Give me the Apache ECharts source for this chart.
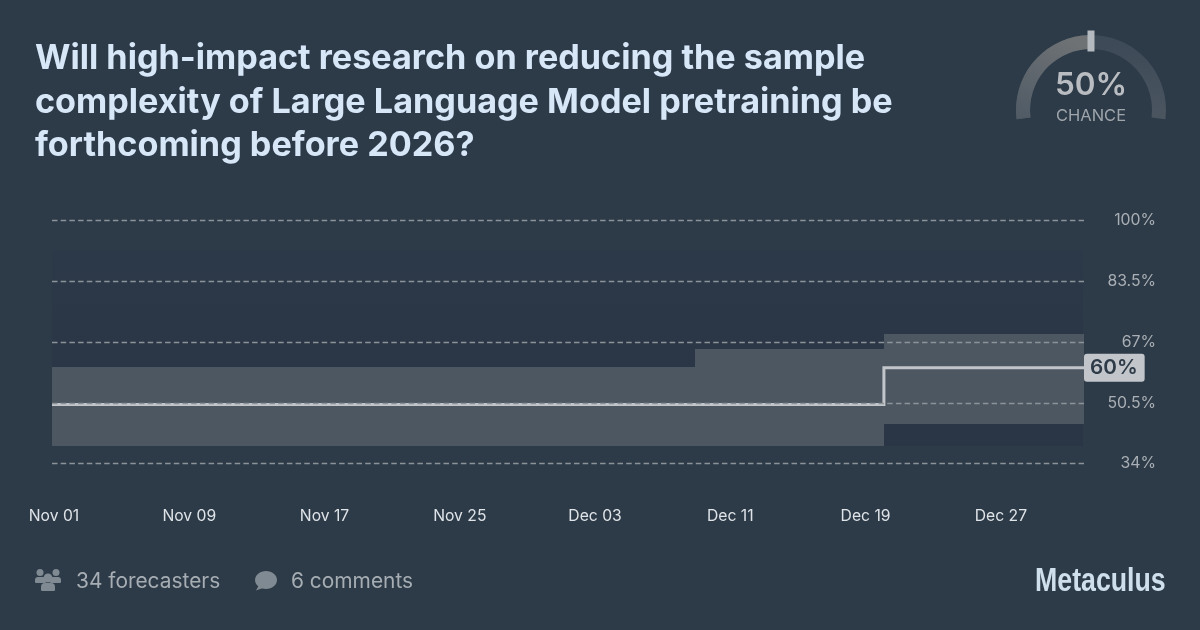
<!DOCTYPE html>
<html>
<head>
<meta charset="utf-8">
<style>html,body{margin:0;padding:0;background:#2d3a48}#c{width:1200px;height:630px}</style>
<script src="https://cdn.jsdelivr.net/npm/echarts@6/dist/echarts.min.js"></script>
</head>
<body>
<div id="c"></div>
<script>
const titleText = "Will high-impact research on reducing the sample\ncomplexity of Large Language Model pretraining be\nforthcoming before 2026?";
const xStart = "2024-10-31T21:10:00Z";
const xEnd = "2024-12-31T22:00:00Z";
const xTickDates = ["2024-11-01","2024-11-09","2024-11-17","2024-11-25","2024-12-03","2024-12-11","2024-12-19","2024-12-27"];
const xTickLabels = ["Nov 01","Nov 09","Nov 17","Nov 25","Dec 03","Dec 11","Dec 19","Dec 27"];
const yTicks = [34, 50.5, 67, 83.5, 100];
const yTickLabels = ["34%","50.5%","67%","83.5%","100%"];
const bandStarts = [xStart, "2024-12-08T22:30:00Z", "2024-12-20T02:00:00Z"];
const bandEnds = ["2024-12-08T22:30:00Z", "2024-12-20T02:00:00Z", xEnd];
const bandLows = [38.8, 38.8, 44.7];
const bandHighs = [60.2, 65.2, 69.2];
const lineDates = [xStart, "2024-12-20T02:00:00Z", xEnd];
const lineValues = [50, 60, 60];
const chanceValue = 50;
const chanceLabel = "CHANCE";
const forecasters = "34 forecasters";
const comments = "6 comments";
const brand = "Metaculus";

const FONT = 'Inter, "Noto Sans", sans-serif';
const ms = s => new Date(s).getTime();
const tickMs = xTickDates.map(d => Date.parse(d + "T00:00:00Z"));
const chart = echarts.init(document.getElementById('c'), null, {renderer:'canvas', width:1200, height:630});

const iconColor = '#808a92';
chart.setOption({
  animation:false,
  backgroundColor:'#2d3a48',
  title:{
    text:titleText, left:30, top:32,
    textStyle:{color:'#d7e7f8', fontFamily:FONT, fontWeight:700, fontSize:34.2, lineHeight:43.5}
  },
  grid:{left:52, right:116, top:220.5, bottom:166.5, containLabel:false},
  xAxis:{
    type:'value', min:ms(xStart), max:ms(xEnd), scale:true,
    axisLine:{show:false}, axisTick:{show:false}, splitLine:{show:false},
    axisLabel:{
      customValues:tickMs, margin:45, hideOverlap:false, showMinLabel:true, showMaxLabel:true,
      color:'#dfe4e8', fontFamily:FONT, fontSize:15.7,
      formatter:v=>xTickLabels[tickMs.indexOf(+v)] ?? ''
    }
  },
  yAxis:{
    type:'value', min:34, max:100, position:'right', z:5,
    axisLine:{show:false}, axisTick:{show:false, customValues:yTicks},
    axisLabel:{
      customValues:yTicks, margin:72, align:'right', color:'#a9afb4', fontFamily:FONT, fontSize:15.8,
      padding:[4,0,0,0],
      formatter:v=>yTickLabels[yTicks.indexOf(+v)] ?? ''
    },
    splitLine:{show:true, lineStyle:{color:'#8c9398', width:1.4, type:[5.5,3.2]}}
  },
  series:[
    {
      type:'custom', z:1, silent:true, clip:true,
      encode:{x:[0,1], y:[2,3]},
      data:bandStarts.map((s,i)=>[ms(s), ms(bandEnds[i]), bandLows[i], bandHighs[i]]),
      renderItem:(p,api)=>{
        const a=api.coord([api.value(0),api.value(3)]), b=api.coord([api.value(1),api.value(2)]);
        return {type:'rect', shape:{x:Math.round(a[0]),y:Math.round(a[1]),width:Math.round(b[0])-Math.round(a[0]),height:Math.round(b[1])-Math.round(a[1])}, style:{fill:'#4d5761'}};
      }
    },
    {
      type:'line', z:4, step:'end', symbol:'none', silent:true,
      data:lineDates.map((d,i)=>[ms(d), lineValues[i]]),
      lineStyle:{color:'#c2c6ca', width:3, cap:'butt', join:'miter'},
      endLabel:{
        show:true, formatter:p=>p.value[1]+'%', distance:0, offset:[0,0],
        color:'#2d3a48', backgroundColor:'#c2c6ca', fontFamily:FONT, fontWeight:600, fontSize:20.7,
        padding:[4,7,3,6], borderRadius:3
      }
    },
    {
      type:'gauge', center:[1091,110], radius:75, startAngle:187, endAngle:-7, min:0, max:100, z:5,
      silent:true,
      axisLine:{roundCap:false, lineStyle:{width:14, color:[[1,{type:'linear',x:0,y:0,x2:0,y2:1,colorStops:[{offset:0,color:'#3c4956'},{offset:1,color:'#4a5560'}]}]]}},
      progress:{show:true, width:14, overlap:false, itemStyle:{
        color:{type:'linear', x:0, y:1, x2:0.6, y2:0, colorStops:[{offset:0,color:'#4f5a65'},{offset:1,color:'#6e7275'}]}
      }},
      splitLine:{show:false}, axisTick:{show:false}, axisLabel:{show:false},
      pointer:{show:false}, anchor:{show:false},
      title:{show:true, offsetCenter:[0,6], color:'#9ea5ab', fontFamily:FONT, fontSize:16.5},
      detail:{show:true, offsetCenter:[0,-24], color:'#b9bdc1', fontFamily:FONT, fontWeight:600, fontSize:31.5, formatter:'{value}%', valueAnimation:false},
      data:[{value:chanceValue, name:chanceLabel}]
    }
  ],
  graphic:[
    {type:'rect', z:-1, silent:true, shape:{x:52,y:250,width:1031,height:196},
      style:{fill:{type:'linear',x:0,y:0,x2:0,y2:1,colorStops:[{offset:0,color:'#2c3949'},{offset:0.4,color:'#2b3747'},{offset:1,color:'#2a3646'}]}}},
    {type:'rect', z:10, silent:true, shape:{x:1087.5,y:30.5,width:7,height:21}, style:{fill:'#b4bac0'}},
    {type:'text', z:10, x:76, y:582, style:{text:forecasters, fill:'#a6adb3', font:'400 20.9px '+FONT, textVerticalAlign:'middle'}},
    {type:'text', z:10, x:291, y:582, style:{text:comments, fill:'#a6adb3', font:'400 20.9px '+FONT, textVerticalAlign:'middle'}},
    {type:'group', x:1035, y:582, scaleX:0.81, children:[
      {type:'text', z:10, x:0, y:0, style:{text:brand, fill:'#cfe0ec', font:'700 33px "Liberation Sans", sans-serif', textVerticalAlign:'middle'}}
    ]},
    {type:'circle', z:11, shape:{cx:48,cy:578,r:4.5}, style:{fill:iconColor}},
    {type:'circle', z:10, shape:{cx:40,cy:572.5,r:3.5}, style:{fill:iconColor}},
    {type:'circle', z:10, shape:{cx:56,cy:572.5,r:3.5}, style:{fill:iconColor}},
    {type:'rect', z:10, shape:{x:35,y:577,width:11,height:6,r:[3,3,1,1]}, style:{fill:iconColor}},
    {type:'rect', z:10, shape:{x:50,y:577,width:11,height:6,r:[3,3,1,1]}, style:{fill:iconColor}},
    {type:'rect', z:11, shape:{x:41,y:583,width:14,height:8,r:[4,4,1,1]}, style:{fill:iconColor}},
    {type:'ellipse', z:10, shape:{cx:266,cy:580,rx:11,ry:9}, style:{fill:iconColor}},
    {type:'polygon', z:10, shape:{points:[[259,585],[263,588],[256,590.5]]}, style:{fill:iconColor}}
  ]
});
</script>
</body>
</html>
